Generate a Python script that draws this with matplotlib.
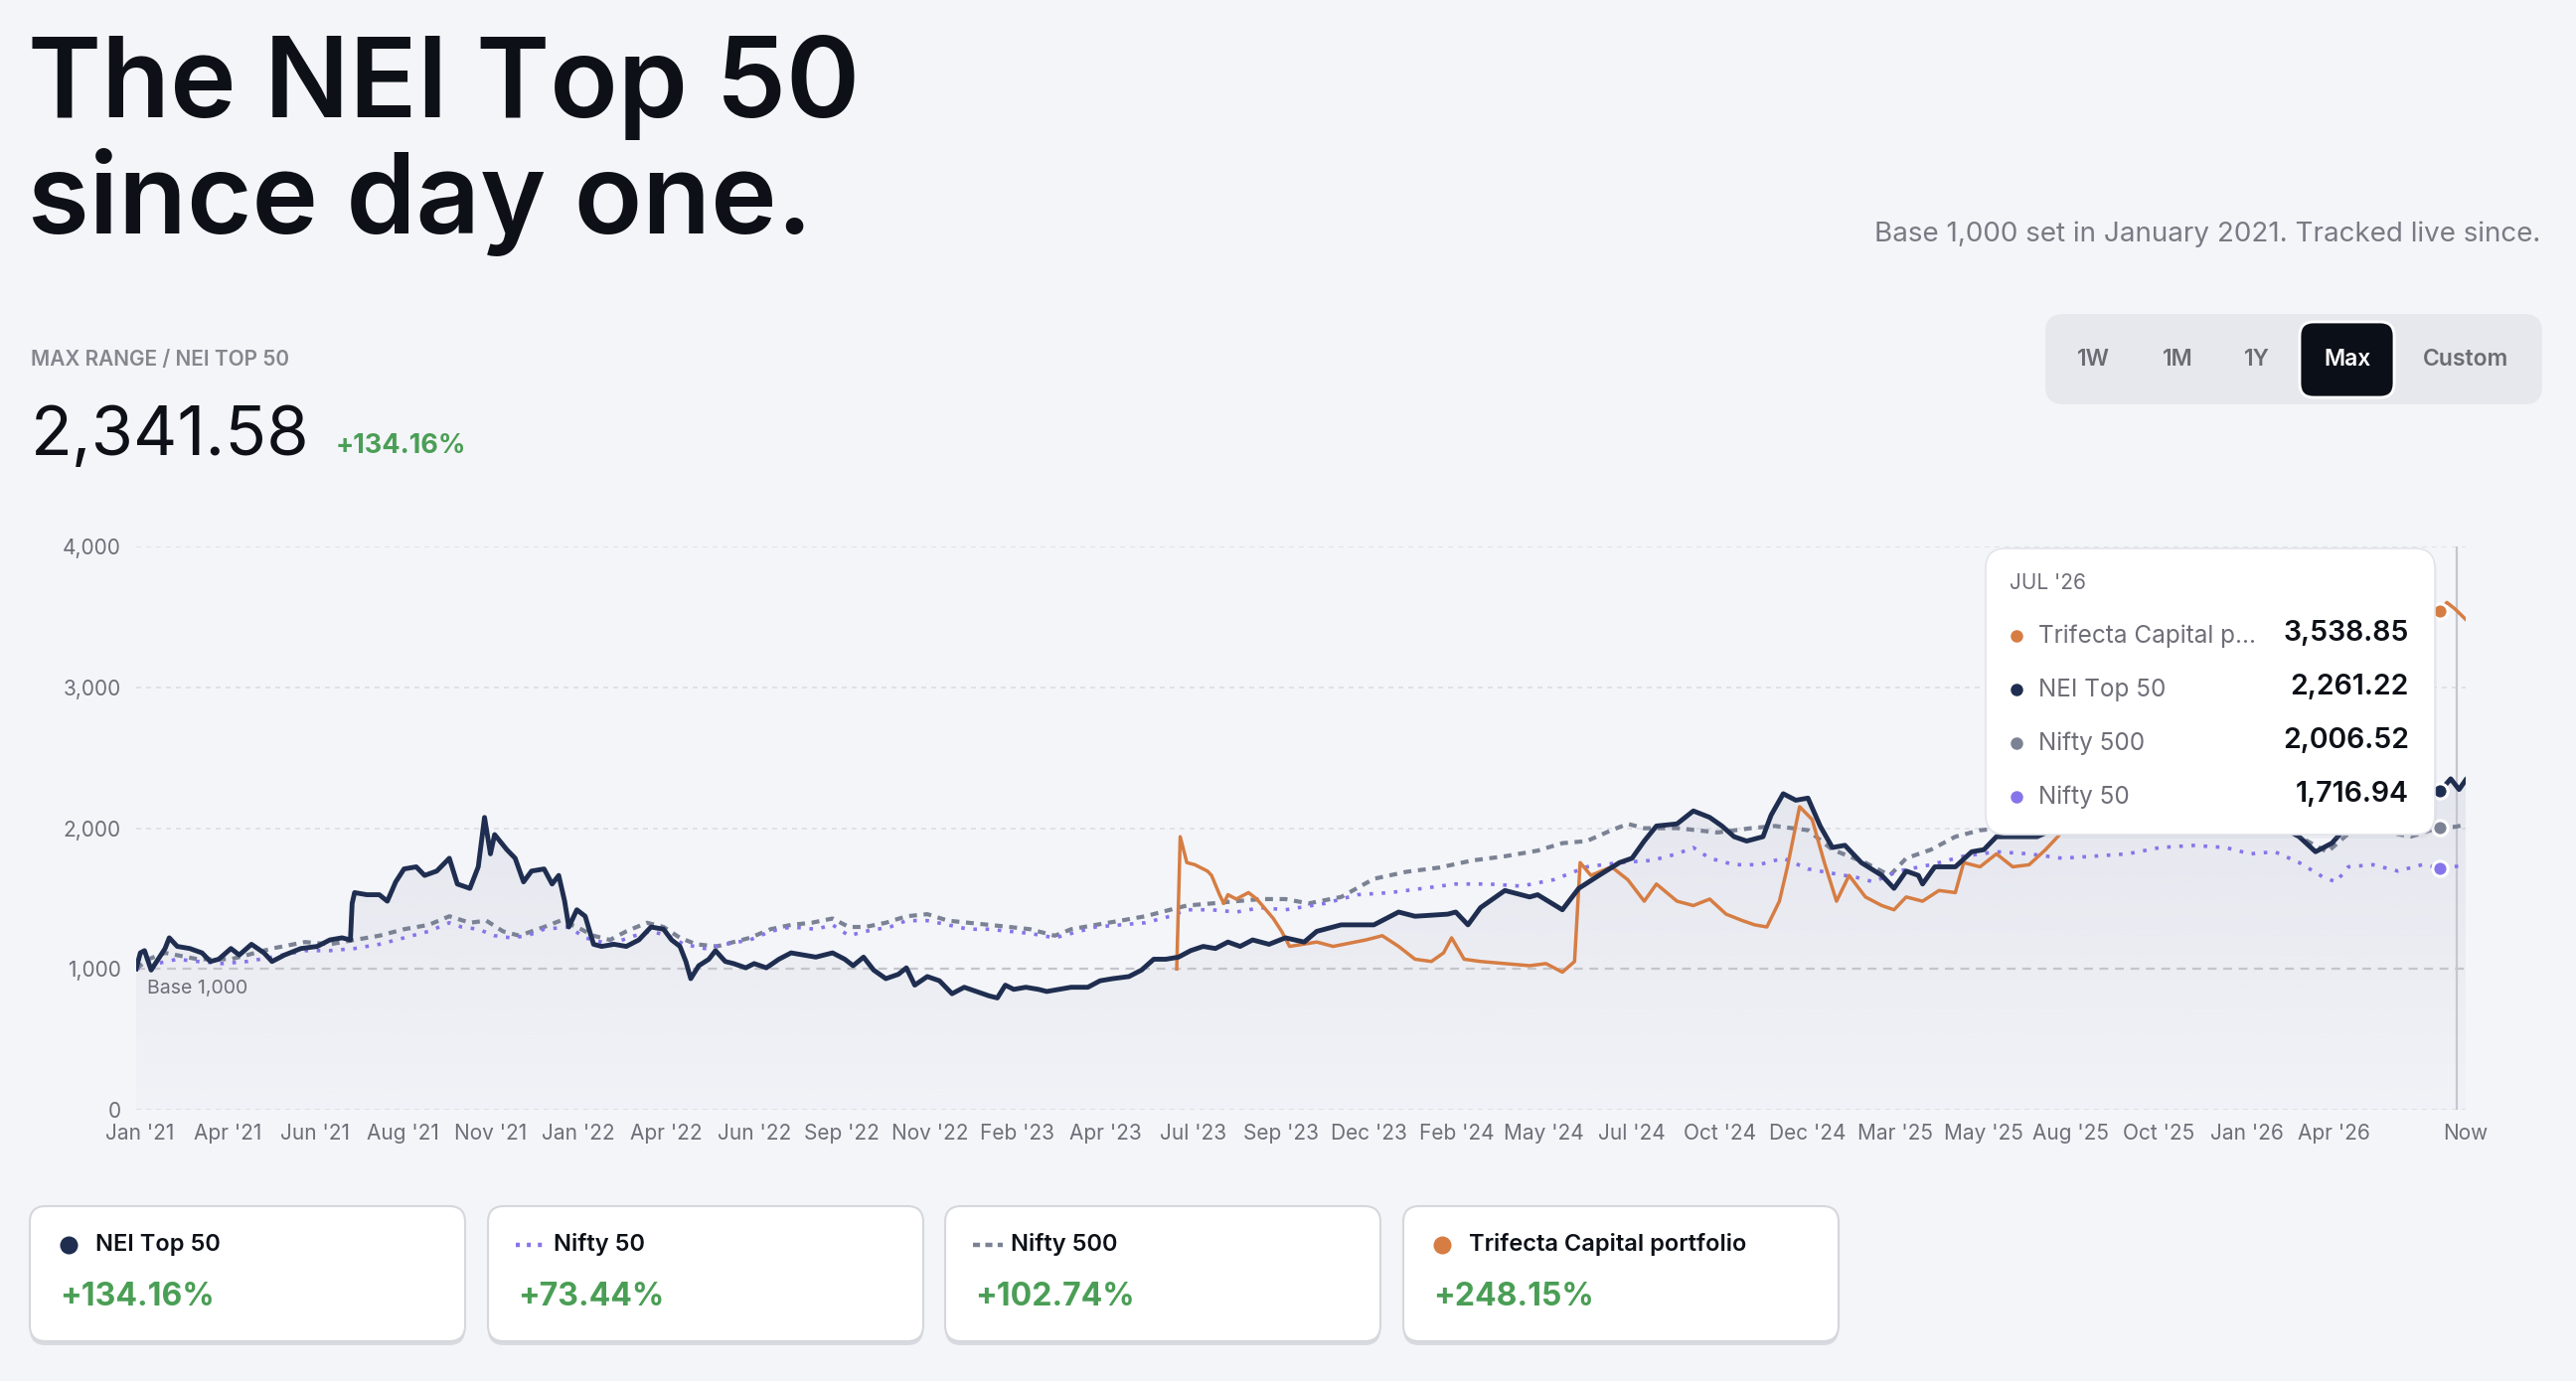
import numpy as np
import matplotlib
matplotlib.use("Agg")
import matplotlib.pyplot as plt
from matplotlib.patches import FancyBboxPatch
from matplotlib.colors import to_rgb
from matplotlib.ticker import FuncFormatter

plt.rcParams['font.family'] = ['Inter', 'DejaVu Sans']

# ---- data (months since Jan 2021, index value) ----
nei_t = [0.0, 0.12, 0.24, 0.43, 0.59, 0.83, 0.95, 1.18, 1.54, 1.89, 2.13, 2.37, 2.72, 2.96, 3.31, 3.67,
         3.90, 4.26, 4.73, 5.20, 5.56, 5.91, 6.15, 6.20, 6.27, 6.62, 6.98, 7.21, 7.45, 7.69, 8.04, 8.28,
         8.63, 8.99, 9.22, 9.58, 9.82, 10.0, 10.17, 10.29, 10.64, 10.88, 11.12, 11.35, 11.71, 11.94, 12.13,
         12.30, 12.42, 12.65, 12.89, 13.13, 13.36, 13.72, 14.07, 14.43, 14.78, 15.14, 15.37, 15.61, 15.78,
         15.92, 16.15, 16.44, 16.63, 16.91, 17.15, 17.50, 17.74, 18.09, 18.45, 18.80, 19.16, 19.51, 19.99,
         20.34, 20.58, 20.88, 21.17, 21.52, 21.88, 22.11, 22.35, 22.71, 23.06, 23.42, 23.77, 24.12, 24.48,
         24.72, 24.95, 25.19, 25.54, 25.90, 26.14, 26.49, 26.84, 27.32, 27.67, 28.03, 28.50, 28.86, 29.21,
         29.56, 29.92, 30.27, 30.63, 30.98, 31.34, 31.69, 32.05, 32.52, 32.99, 33.53, 33.89, 34.59, 35.53,
         36.24, 36.71, 37.65, 37.88, 38.23, 38.59, 39.29, 40.0, 40.23, 40.94, 41.41, 41.99, 42.58, 42.94,
         43.29, 43.64, 44.23, 44.70, 45.17, 45.52, 45.87, 46.23, 46.70, 46.93, 47.28, 47.64, 47.99, 48.34,
         48.69, 49.05, 49.52, 50.11, 50.46, 50.81, 51.16, 51.28, 51.63, 52.22, 52.69, 53.04, 53.40, 53.87,
         54.57, 55.2, 55.9, 56.6, 57.3, 58.0, 58.7, 59.4, 60.1, 60.8, 61.5, 62.09, 62.56, 63.03, 63.27,
         63.9, 64.6, 65.3, 65.97, 66.13, 66.44, 66.68, 66.87]
nei_v = [1001, 1114, 1130, 992, 1053, 1145, 1221, 1160, 1145, 1114, 1053, 1069, 1145, 1099, 1175, 1114,
         1053, 1099, 1145, 1160, 1206, 1221, 1206, 1465, 1542, 1527, 1527, 1481, 1618, 1710, 1725, 1664,
         1695, 1786, 1603, 1572, 1725, 2076, 1817, 1954, 1847, 1786, 1618, 1695, 1710, 1603, 1664,
         1481, 1298, 1420, 1374, 1175, 1160, 1175, 1160, 1206, 1298, 1282, 1206, 1160, 1053,
         931, 1023, 1069, 1130, 1053, 1038, 1008, 1038, 1008, 1069, 1114, 1099, 1084, 1114,
         1069, 1023, 1084, 992, 931, 962, 1008, 885, 946, 916, 824, 870, 840, 809,
         794, 885, 855, 870, 855, 840, 855, 870, 870, 916, 931, 946, 992, 1069,
         1069, 1084, 1130, 1160, 1145, 1191, 1160, 1206, 1175, 1221, 1191, 1267, 1313, 1313,
         1404, 1374, 1389, 1404, 1313, 1435, 1557, 1511, 1527, 1420, 1572, 1664, 1755, 1786,
         1908, 2015, 2030, 2122, 2076, 2015, 1939, 1908, 1939, 2091, 2244, 2198, 2213, 2015,
         1862, 1878, 1755, 1664, 1572, 1695, 1664, 1603, 1725, 1725, 1832, 1847, 1939, 1939,
         1939, 2010, 2070, 2040, 2110, 2160, 2120, 2180, 2150, 2090, 2020, 1939, 1832, 1893, 1960,
         2080, 2160, 2230, 2274, 2261, 2350, 2274, 2342]

tri_t = [29.87, 29.97, 30.16, 30.39, 30.75, 30.87, 31.10, 31.22, 31.34, 31.58, 31.93, 32.17, 32.64, 32.88,
         33.11, 33.89, 34.36, 35.30, 35.77, 36.24, 36.71, 37.18, 37.53, 37.76, 38.12, 38.59, 39.29, 40.0,
         40.47, 40.94, 41.29, 41.45, 41.76, 42.35, 42.82, 43.29, 43.64, 44.23, 44.70, 45.17, 45.64, 46.11,
         46.46, 46.81, 47.17, 47.40, 47.75, 48.11, 48.46, 48.81, 49.17, 49.64, 50.11, 50.46, 50.81, 51.28,
         51.75, 52.22, 52.46, 52.93, 53.40, 53.87, 54.34, 54.81, 55.16, 55.8, 56.5, 57.3, 58.1, 58.9, 59.7,
         60.5, 61.3, 62.1, 62.9, 63.7, 64.5, 65.3, 65.97, 66.13, 66.33, 66.56, 66.87]
tri_v = [1000, 1939, 1755, 1740, 1695, 1664, 1527, 1465, 1527, 1496, 1542, 1496, 1359, 1267,
         1160, 1191, 1160, 1206, 1236, 1160, 1069, 1053, 1114, 1221, 1069, 1053, 1038, 1023,
         1038, 977, 1053, 1755, 1664, 1725, 1633, 1481, 1603, 1481, 1450, 1496, 1389, 1343,
         1313, 1298, 1481, 1725, 2152, 2061, 1755, 1481, 1664, 1511, 1450, 1420, 1511, 1481,
         1557, 1542, 1755, 1725, 1817, 1725, 1740, 1847, 1939, 2150, 2300, 2450, 2550, 2700, 2800,
         2950, 3050, 3000, 3150, 3300, 3380, 3450, 3557, 3539, 3602, 3557, 3482]

n500_t = [0, 0.35, 0.83, 1.77, 2.72, 3.19, 3.90, 4.85, 5.56, 6.27, 6.98, 7.69, 8.40, 8.99, 9.58, 10.05,
          10.53, 11.0, 11.71, 12.18, 12.65, 13.13, 13.60, 14.07, 14.66, 15.14, 15.61, 16.08, 16.67, 17.15,
          17.62, 18.21, 18.80, 19.39, 19.99, 20.46, 20.93, 21.52, 22.11, 22.71, 23.30, 23.89, 24.48, 25.07,
          25.66, 26.37, 26.84, 27.55, 28.26, 28.97, 29.68, 30.16, 30.87, 31.58, 32.28, 32.99, 33.65, 34.59,
          35.53, 36.47, 37.41, 38.35, 39.29, 40.23, 40.94, 41.64, 42.35, 42.82, 43.29, 44.23, 45.40, 46.34,
          47.05, 47.99, 48.69, 49.63, 50.34, 50.81, 51.52, 52.22, 52.93, 53.6, 54.4, 55.2, 56.0, 56.8,
          57.6, 58.4, 59.2, 60.0, 60.8, 61.6, 62.09, 62.9, 63.5, 64.2, 65.3, 66.09, 66.6, 66.87]
n500_v = [1000, 1069, 1114, 1069, 1069, 1099, 1145, 1191, 1175, 1206, 1236, 1282, 1313, 1374, 1328, 1343,
          1267, 1236, 1298, 1343, 1298, 1236, 1206, 1267, 1328, 1298, 1221, 1175, 1160, 1191,
          1221, 1282, 1313, 1328, 1358, 1298, 1298, 1328, 1374, 1389, 1343, 1328, 1313, 1298,
          1282, 1236, 1282, 1313, 1343, 1374, 1420, 1450, 1465, 1481, 1496, 1496, 1465, 1511,
          1640, 1690, 1720, 1770, 1800, 1840, 1893, 1908, 1985, 2030, 1999, 2000, 1969, 1999,
          2015, 1985, 1847, 1755, 1664, 1786, 1847, 1939, 1985, 2000, 2040, 2060, 2050, 2090,
          2100, 2080, 2110, 2090, 2060, 2010, 1939, 1830, 1960, 1990, 1940, 2003, 2010, 2027]

n50_t = [0, 0.59, 1.18, 1.77, 2.48, 3.19, 3.90, 4.85, 5.56, 6.27, 6.98, 7.69, 8.40, 8.99, 9.34, 9.82,
         10.29, 10.76, 11.23, 11.71, 12.42, 12.89, 13.60, 14.31, 14.78, 15.26, 15.73, 16.32, 16.91, 17.62,
         18.21, 18.80, 19.51, 19.99, 20.46, 20.93, 21.64, 22.11, 22.71, 23.30, 23.89, 24.48, 25.07, 25.66,
         26.37, 26.84, 27.55, 28.26, 28.97, 29.68, 30.16, 30.87, 31.58, 32.28, 32.99, 34.12, 35.06, 36.0,
         36.94, 37.88, 38.82, 39.76, 40.70, 41.64, 42.58, 43.52, 44.23, 44.70, 45.17, 45.87, 46.58, 47.28,
         47.99, 48.69, 49.40, 49.87, 50.58, 51.52, 52.46, 53.40, 54.34, 55.28, 56.22, 57.16, 58.10, 59.04,
         59.98, 60.68, 61.39, 62.09, 62.80, 63.15, 63.50, 64.21, 64.92, 65.62, 66.09, 66.87]
n50_v = [1000, 1038, 1069, 1053, 1038, 1053, 1084, 1130, 1130, 1145, 1175, 1221, 1267, 1328, 1298, 1282,
         1236, 1221, 1236, 1282, 1298, 1221, 1175, 1236, 1267, 1236, 1175, 1145, 1175, 1206,
         1267, 1298, 1282, 1313, 1236, 1267, 1298, 1343, 1343, 1313, 1282, 1282, 1267, 1252,
         1221, 1252, 1298, 1313, 1328, 1374, 1420, 1420, 1404, 1435, 1420, 1465, 1527, 1542,
         1572, 1603, 1603, 1588, 1634, 1725, 1755, 1771, 1817, 1862, 1786, 1740, 1740, 1786,
         1710, 1679, 1649, 1618, 1695, 1740, 1801, 1832, 1817, 1786, 1801, 1817, 1862, 1877,
         1862, 1817, 1832, 1755, 1649, 1618, 1725, 1740, 1695, 1740, 1717, 1734]

x_end = 66.87
cursor_t = 66.6
hover_t = 66.13
tick_labels = ["Jan '21", "Apr '21", "Jun '21", "Aug '21", "Nov '21", "Jan '22", "Apr '22", "Jun '22",
               "Sep '22", "Nov '22", "Feb '23", "Apr '23", "Jul '23", "Sep '23", "Dec '23", "Feb '24",
               "May '24", "Jul '24", "Oct '24", "Dec '24", "Mar '25", "May '25", "Aug '25", "Oct '25",
               "Jan '26", "Apr '26"]

tip_month = "JUL '26"
tip_labels = ["Trifecta Capital p...", "NEI Top 50", "Nifty 500", "Nifty 50"]
tip_values = [3538.85, 2261.22, 2006.52, 1716.94]

card_names = ["NEI Top 50", "Nifty 50", "Nifty 500", "Trifecta Capital portfolio"]
card_changes = [134.16, 73.44, 102.74, 248.15]

range_buttons = ["1W", "1M", "1Y", "Max", "Custom"]

# ---- style ----
BG = '#f4f5f9'
NAVY = '#1f2e50'
ORANGE = '#d67d43'
GRAY = '#7b8294'
PURPLE = '#8675ea'
GREEN = '#4a9e55'
INK = '#0d1117'
MUTED = '#6e6e78'
tip_colors = [ORANGE, NAVY, GRAY, PURPLE]

W, H = 2592, 1390
fig = plt.figure(figsize=(W / 100, H / 100), dpi=100, facecolor=BG)

# chart axes
ax = fig.add_axes([137 / W, 1 - 1117 / H, (2481 - 137) / W, (1117 - 550) / H])
ax.set_facecolor(BG)
for s in ax.spines.values():
    s.set_visible(False)

# gradient under NEI line
poly = ax.fill_between(nei_t, nei_v, 0, color='none', lw=0)
grad = np.zeros((256, 1, 4))
grad[..., :3] = to_rgb('#c3c6d6')
grad[..., 3] = np.linspace(0.05, 0.32, 256).reshape(-1, 1)
im = ax.imshow(grad, extent=[0, x_end, 0, 2400], origin='lower', aspect='auto', zorder=1)
im.set_clip_path(poly.get_paths()[0], transform=ax.transData)

for yv in [0, 2000, 3000, 4000]:
    ax.axhline(yv, color='#dcdde3', lw=1.2, linestyle=(0, (3, 3)), zorder=0)
ax.axhline(1000, color='#c4c5cb', lw=1.6, linestyle=(0, (4, 3)), zorder=2)
ax.text(0.31, 925, "Base 1,000", fontsize=14, color=MUTED, va='top', ha='left', zorder=3)

ax.plot(n500_t, n500_v, color=GRAY, lw=3.0, linestyle=(0, (1.9, 1.6)), zorder=3)
ax.plot(n50_t, n50_v, color=PURPLE, lw=2.6, linestyle=(0, (1.0, 2.4)), zorder=3)
ax.plot(tri_t, tri_v, color=ORANGE, lw=2.5, zorder=4)
ax.plot(nei_t, nei_v, color=NAVY, lw=3.5, zorder=5, solid_joinstyle='round')

ax.axvline(cursor_t, color='#c6c7ce', lw=1.6, zorder=2)
for val, col in zip(tip_values, tip_colors):
    ax.plot([hover_t], [val], marker='o', ms=11, color=col, mec='white', mew=2.2, zorder=6)

ax.set_xlim(0, x_end)
ax.set_ylim(0, 4000)
ax.set_yticks([0, 1000, 2000, 3000, 4000])
ax.yaxis.set_major_formatter(FuncFormatter(lambda v, p: f"{v:,.0f}"))
tick_pos = list(np.linspace(0.1, 63.1, len(tick_labels))) + [x_end]
ax.set_xticks(tick_pos)
ax.set_xticklabels(tick_labels + ["Now"])
ax.tick_params(length=0, labelsize=15, labelcolor=MUTED)
ax.tick_params(axis='y', pad=11)
ax.tick_params(axis='x', pad=10)

# overlay in pixel coordinates for header, tooltip and cards
ov = fig.add_axes([0, 0, 1, 1], zorder=10)
ov.set_xlim(0, W)
ov.set_ylim(H, 0)
ov.axis('off')
ov.patch.set_alpha(0)

ov.text(28, 118, "The NEI Top 50", fontsize=81, fontweight='semibold', color=INK, va='baseline')
ov.text(28, 235, "since day one.", fontsize=81, fontweight='semibold', color=INK, va='baseline')
ov.text(2556, 243, "Base 1,000 set in January 2021. Tracked live since.", fontsize=20,
        color='#7a7a84', ha='right', va='baseline')

ov.text(31, 368, "MAX RANGE / NEI TOP 50", fontsize=15, fontweight='semibold', color='#86868e',
        va='baseline')
ov.text(31, 458, "2,341.58", fontsize=49.5, color=INK, va='baseline')
ov.text(338, 456, f"+{card_changes[0]:.2f}%", fontsize=19.5, fontweight='bold', color=GREEN,
        va='baseline')

# range selector
ov.add_patch(FancyBboxPatch((2058, 316), 500, 91, boxstyle="round,pad=0,rounding_size=18",
                            fc='#e7e8ed', ec='none'))
ov.add_patch(FancyBboxPatch((2314, 324), 95, 76, boxstyle="round,pad=0,rounding_size=14",
                            fc='#0b0f17', ec='white', lw=2))
for lab, xc in zip(range_buttons, [2106, 2191, 2271, 2362, 2481]):
    ov.text(xc, 362, lab, fontsize=16.5, fontweight='semibold',
            color='white' if lab == "Max" else '#6b6b73', ha='center', va='center')

# tooltip
ov.add_patch(FancyBboxPatch((2000, 556), 452, 288, boxstyle="round,pad=0,rounding_size=20",
                            fc='#9aa0b4', ec='none', alpha=0.10))
ov.add_patch(FancyBboxPatch((1998, 552), 452, 288, boxstyle="round,pad=0,rounding_size=20",
                            fc='white', ec='#e3e4ea', lw=1.2))
ov.text(2022, 587, tip_month, fontsize=15, color=MUTED, va='center')
for i, (lab, val, col) in enumerate(zip(tip_labels, tip_values, tip_colors)):
    yy = 640 + i * 54
    ov.plot([2029], [yy], marker='o', ms=9, color=col, mew=0)
    ov.text(2051, yy, lab, fontsize=17.5, color=MUTED, va='center')
    ov.text(2424, yy - 2, f"{val:,.2f}", fontsize=20.5, fontweight='semibold', color=INK,
            ha='right', va='center')

# summary cards
card_x = [30, 491, 951, 1412]
card_styles = [('o', NAVY, None), ('line', PURPLE, (0, (0.9, 1.6))), ('line', GRAY, (0, (1.6, 1.2))),
               ('o', ORANGE, None)]
for cx, name, chg, (kind, col, ls) in zip(card_x, card_names, card_changes, card_styles):
    ov.add_patch(FancyBboxPatch((cx, 1216), 438, 138, boxstyle="round,pad=0,rounding_size=16",
                                fc='#d9dadf', ec='none'))
    ov.add_patch(FancyBboxPatch((cx, 1214), 438, 136, boxstyle="round,pad=0,rounding_size=16",
                                fc='white', ec='#d6d7dc', lw=1.5))
    if kind == 'o':
        ov.plot([cx + 39], [1253], marker='o', ms=13, color=col, mew=0)
    else:
        ov.plot([cx + 28, cx + 58], [1253, 1253], color=col, lw=3.2, linestyle=ls,
                solid_capstyle='butt', dash_capstyle='butt')
    ov.text(cx + 66, 1253, name, fontsize=17, fontweight='semibold', color=INK, va='center')
    ov.text(cx + 30, 1305, f"+{chg:.2f}%", fontsize=23, fontweight='bold', color=GREEN, va='center')

fig.savefig("out.png", dpi=100, facecolor=BG)
